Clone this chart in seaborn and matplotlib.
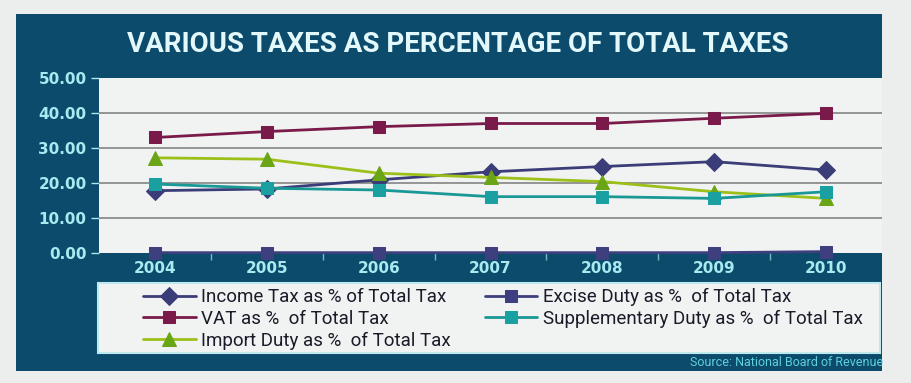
import matplotlib
matplotlib.use("Agg")
import matplotlib.pyplot as plt
import matplotlib.patches as mpatches
import seaborn as sns
import pandas as pd

years = [2004, 2005, 2006, 2007, 2008, 2009, 2010]
income_tax = [17.8, 18.3, 20.9, 23.2, 24.7, 26.1, 23.7]
vat = [33.0, 34.7, 36.1, 37.0, 37.0, 38.5, 39.9]
import_duty = [27.2, 26.8, 22.8, 21.6, 20.4, 17.5, 15.6]
excise_duty = [0.1, 0.1, 0.1, 0.1, 0.1, 0.1, 0.4]
supplementary_duty = [19.7, 18.5, 18.0, 16.1, 16.1, 15.6, 17.5]

series_names = [
    "Income Tax as % of Total Tax",
    "VAT as %  of Total Tax",
    "Import Duty as %  of Total Tax",
    "Excise Duty as %  of Total Tax",
    "Supplementary Duty as %  of Total Tax",
]
series_values = [income_tax, vat, import_duty, excise_duty, supplementary_duty]
line_colors = ["#3b3d78", "#7a1a4a", "#9cbf1a", "#3e3f7e", "#1a9896"]
marker_colors = ["#3b3d78", "#7a1a4a", "#6aa515", "#3e3f7e", "#1aa0a0"]
marker_styles = ["D", "s", "^", "s", "s"]
marker_sizes = [9, 9, 10, 9, 9]

panel = "#0c4b6b"
light = "#a9e9f0"
narrow = ["Roboto", "DejaVu Sans"]

sns.set_theme(style="white")
plt.rcParams["font.family"] = narrow

fig = plt.figure(figsize=(9.11, 3.83), dpi=100)
fig.patch.set_facecolor("#eceeee")
fig.add_artist(mpatches.Rectangle((16 / 911, 1 - 371 / 383), 882 / 911 - 16 / 911, (371 - 14) / 383,
                                  transform=fig.transFigure, facecolor=panel, edgecolor="none", zorder=0))
# legend box
fig.add_artist(mpatches.Rectangle((98 / 911, 1 - 353 / 383), 782 / 911, 70 / 383,
                                  transform=fig.transFigure, facecolor="#f1f3f3", edgecolor="#bfe9ef",
                                  lw=1.5, zorder=1))

ax = fig.add_axes([99 / 911, 1 - 253 / 383, 783 / 911, 175 / 383])
ax.set_facecolor("#f1f3f3")

rows = []
for name, vals in zip(series_names, series_values):
    for i, v in enumerate(vals):
        rows.append({"pos": i, "Series": name, "Value": v})
df = pd.DataFrame(rows)

handles = []
for name, lc, mc, mk, ms in zip(series_names, line_colors, marker_colors, marker_styles, marker_sizes):
    sub = df[df["Series"] == name]
    sns.lineplot(data=sub, x="pos", y="Value", ax=ax, color=lc, lw=2.0, marker=mk,
                 markersize=ms, markerfacecolor=mc, markeredgecolor=mc, label=name,
                 clip_on=False, zorder=3, legend=False)
    handles.append(ax.lines[-1])

ax.set_xlim(-0.5, 6.5)
ax.set_ylim(0, 50)
ax.set_yticks([0, 10, 20, 30, 40, 50])
ax.set_yticklabels([f"{v:.2f}" for v in [0, 10, 20, 30, 40, 50]])
ax.set_xticks(range(len(years)))
ax.set_xticklabels([str(y) for y in years])
ax.set_xticks([i + 0.5 for i in range(len(years) - 1)], minor=True)
ax.set_xlabel("")
ax.set_ylabel("")
for y in [10, 20, 30, 40]:
    ax.axhline(y, color="#8c8c8c", lw=1.3, zorder=1)
for s in ax.spines.values():
    s.set_visible(False)
ax.tick_params(axis="y", which="major", length=6, width=1, color=light, colors=light,
               labelsize=11, pad=3, direction="out", left=True)
ax.tick_params(axis="x", which="major", length=0, colors=light, labelsize=11, pad=6)
ax.tick_params(axis="x", which="minor", length=5, width=1, color="#7fb3c6", bottom=True, direction="out")
for lab in ax.get_yticklabels() + ax.get_xticklabels():
    lab.set_fontweight("bold")
    lab.set_family("DejaVu Sans")
    lab.set_color(light)

fig.text(0.502, 1 - 45 / 383, "VARIOUS TAXES AS PERCENTAGE OF TOTAL TAXES", ha="center", va="center",
         fontsize=20, fontweight="bold", color="#e2f8fa", family=narrow)

leg = fig.legend(handles=handles, labels=series_names, ncol=2, loc="upper left",
                 bbox_to_anchor=(143 / 911, 1 - 288 / 383), frameon=False, fontsize=13.5,
                 handlelength=2.8, labelspacing=0.2, borderpad=0, handletextpad=0.3,
                 columnspacing=1.8, borderaxespad=0)
leg.set_zorder(2)
for t in leg.get_texts():
    t.set_color("#1a1a28")

fig.text(883 / 911, 1 - 362 / 383, "Source: National Board of Revenue", ha="right", va="center",
         fontsize=9, color="#5fd0dc", family=narrow)

fig.savefig("out.png", dpi=100, facecolor=fig.get_facecolor())
